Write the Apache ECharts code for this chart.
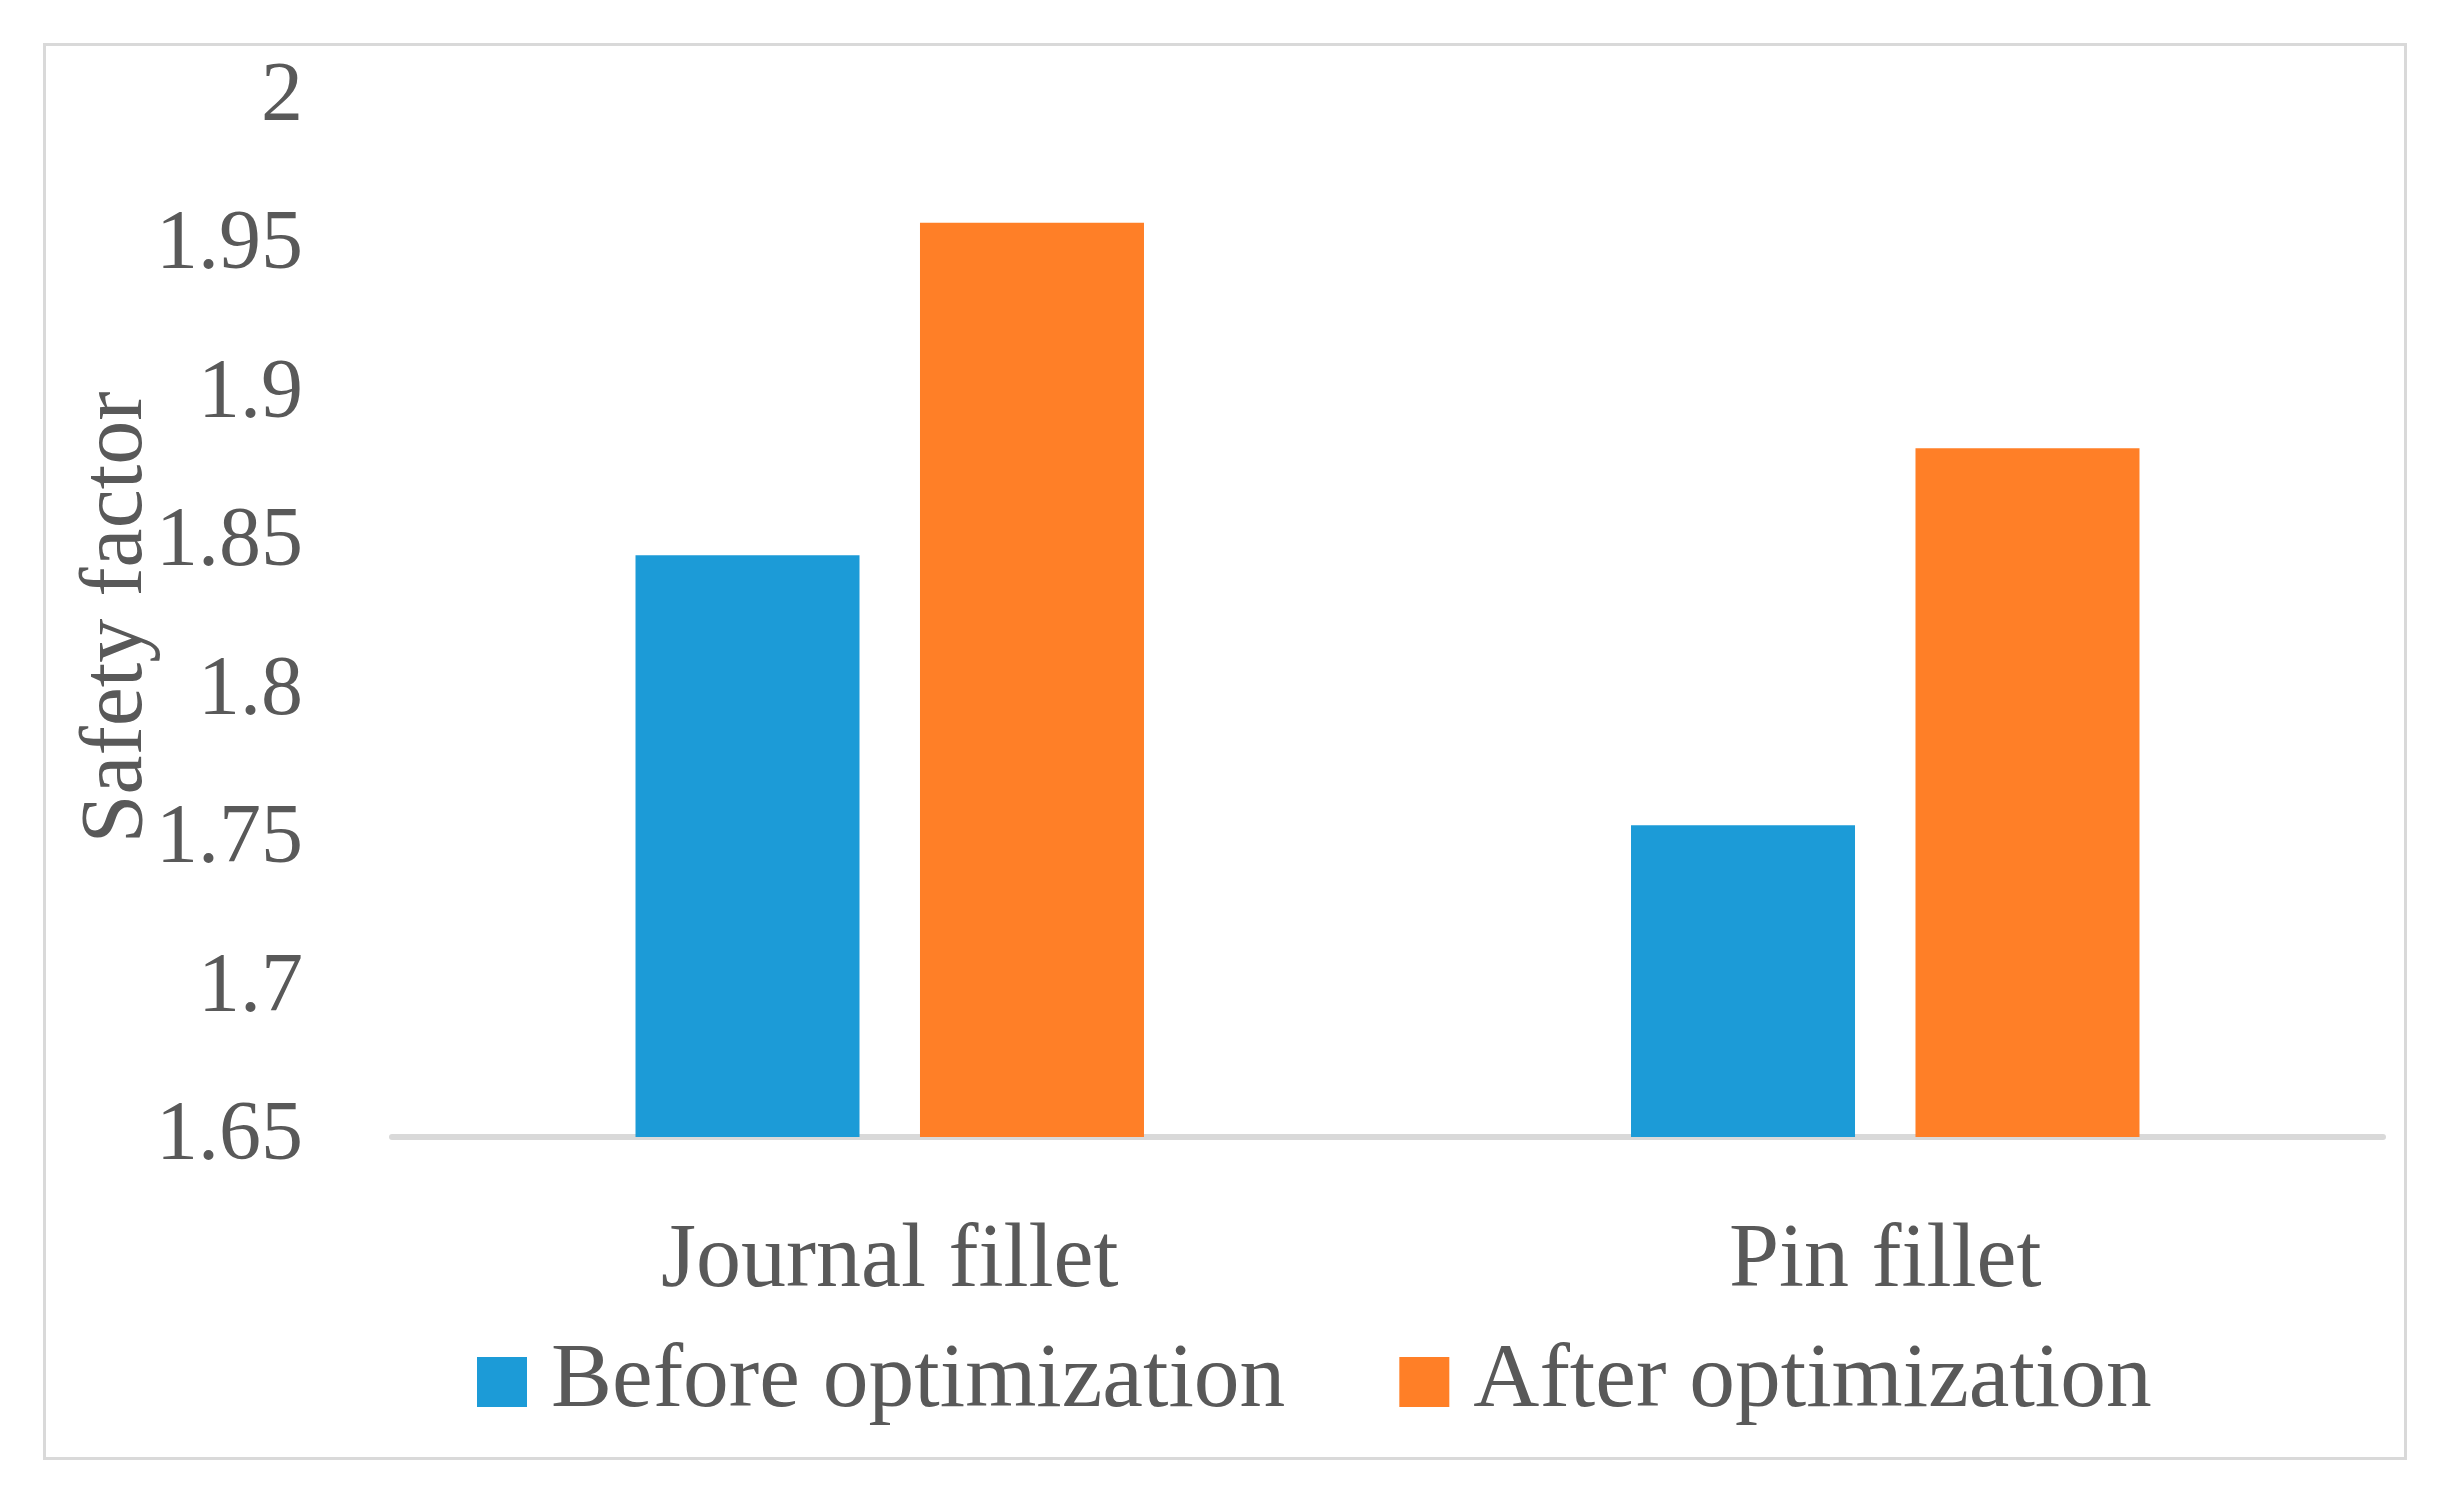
<!DOCTYPE html>
<html>
<head>
<meta charset="utf-8">
<script src="https://cdn.jsdelivr.net/npm/echarts@6/dist/echarts.min.js"></script>
<style>
html,body{margin:0;padding:0;background:#fff;}
#c{width:2450px;height:1497px;}
</style>
</head>
<body>
<div id="c"></div>
<script>
const categories = ["Journal fillet", "Pin fillet"];
const seriesNames = ["Before optimization", "After optimization"];
const beforeValues = [1.846, 1.755];
const afterValues = [1.958, 1.882];
const yMin = 1.65, yMax = 2, yStep = 0.05;
const yAxisTitle = "Safety factor";

const FONT = "Liberation Serif";
const TXT = "#595959";

const chart = echarts.init(document.getElementById('c'), null, {renderer: 'canvas'});
chart.setOption({
  backgroundColor: '#ffffff',
  animation: false,
  graphic: [{
    type: 'rect', left: 42, top: 42, silent: true,
    shape: {width: 2361, height: 1414},
    style: {fill: 'none', stroke: '#d9d9d9', lineWidth: 3}
  }],
  grid: {left: 392, right: 67, top: 98, bottom: 360, containLabel: false},
  legend: {
    data: seriesNames,
    left: 477, top: 1336, padding: 0,
    itemWidth: 50, itemHeight: 50, itemGap: 114,
    icon: 'rect',
    textStyle: {fontFamily: FONT, fontSize: 91.5, color: TXT, padding: [0, 0, 0, 19]}
  },
  xAxis: {
    type: 'category', data: categories,
    axisLine: {show: true, lineStyle: {color: '#d9d9d9', width: 6}},
    axisTick: {show: false},
    axisLabel: {fontFamily: FONT, fontSize: 90, color: TXT, margin: 80}
  },
  yAxis: {
    type: 'value', min: yMin, max: yMax, interval: yStep,
    name: yAxisTitle, nameLocation: 'middle', nameGap: 230, nameRotate: 90,
    nameMoveOverlap: false,
    nameTextStyle: {fontFamily: FONT, fontSize: 88, color: TXT},
    axisLine: {show: false}, axisTick: {show: false},
    splitLine: {show: false},
    axisLabel: {
      fontFamily: FONT, fontSize: 84, color: TXT, margin: 89,
      formatter: v => String(parseFloat(v.toFixed(2)))
    }
  },
  series: [
    {name: seriesNames[0], type: 'bar', data: beforeValues, barWidth: 224, barGap: '27%',
     itemStyle: {color: '#1c9bd7'}},
    {name: seriesNames[1], type: 'bar', data: afterValues, barWidth: 224,
     itemStyle: {color: '#ff7f27'}}
  ]
});
</script>
</body>
</html>
